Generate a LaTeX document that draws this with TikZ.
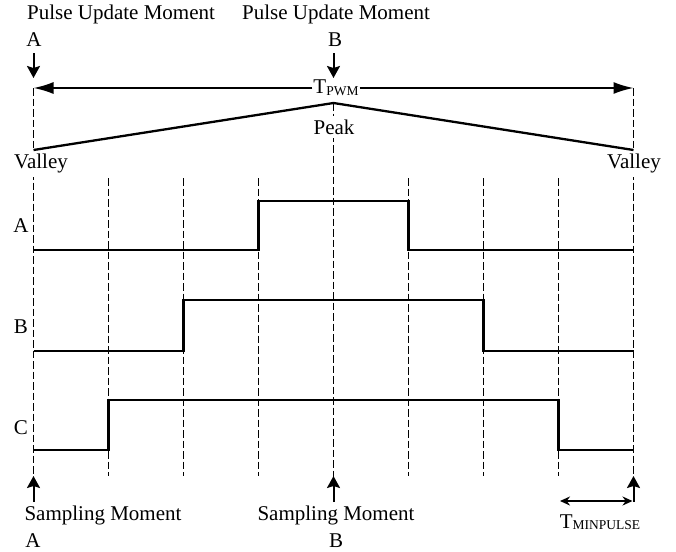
\documentclass[tikz,border=0pt]{standalone}
\usepackage{fontspec}
\setmainfont{Liberation Serif}
\usetikzlibrary{arrows.meta, positioning}

\newcommand{\subcap}[2][-2pt]{\raisebox{#1}{\fontsize{13.5}{14}\selectfont #2}}

\begin{document}
\begin{tikzpicture}[
    x=1pt, y=-1pt,
    lbl/.style={inner sep=0pt, font=\fontsize{21}{24}\selectfont},
    mask/.style={lbl, fill=white, inner xsep=1pt, inner ysep=4pt},
    grid/.style={line width=1.3pt, dash pattern=on 7.5pt off 3pt},
    wave/.style={line width=2.3pt},
    carrier/.style={line width=2.3pt},
    ptr/.style={-{Stealth[length=12pt,width=13pt,inset=2pt]}, line width=2pt},
    span/.style={-{Latex[length=20pt,width=12pt]}, line width=1.8pt},
    tick/.style={{Stealth[length=10pt,width=9pt]}-{Stealth[length=10pt,width=9pt]}, line width=1.8pt}
]
    \useasboundingbox (0,0) rectangle (676,551);

    % key points
    \coordinate (pwmL) at (33.5,88);
    \coordinate (pwmR) at (633.5,88);
    \coordinate (v0) at (33.5,150);
    \coordinate (pk) at (333.5,103);
    \coordinate (v8) at (633.5,150);

    % dashed sampling lines
    \foreach \i in {1,2,3,5,6,7}
        \draw[grid] (33.5+75*\i,178) -- (33.5+75*\i,476);
    \draw[grid] (pwmL) -- (33.5,478);
    \draw[grid] (pk) -- (333.5,478);
    \draw[grid] (pwmR) -- (633.5,478);

    % carrier labels
    \node[mask] (valL) at (41,163) {Valley};
    \node[mask] (valR) at (634,163) {Valley};
    \node[mask] (peak) at (334,127) {Peak};

    % carrier
    \draw[carrier] (v0) -- (pk) -- (v8);

    % period
    \node[mask, inner ysep=1pt] (tpwm) at (336,88) {T\subcap{PWM}};
    \draw[span] (tpwm.west) -- (pwmL);
    \draw[span] (tpwm.east) -- (pwmR);

    % update moments
    \node[lbl] (updA) at (121,14) {Pulse Update Moment};
    \node[lbl] (updAl) at (34,40) {A};
    \node[lbl] (updB) at (336,14) {Pulse Update Moment};
    \node[lbl] (updBl) at (335,40) {B};
    \coordinate (updAt) at (33.5,78);
    \coordinate (updBt) at (333.5,78);
    \draw[ptr] (updAl.south) ++(-0.5,6) -- (updAt);
    \draw[ptr] (updBl.south) ++(-1.5,6) -- (updBt);

    % phase signals
    \node[lbl] (sigA) at (21,226) {A};
    \node[lbl] (sigB) at (21,327) {B};
    \node[lbl] (sigC) at (21,428) {C};
    \draw[wave] (33.5,250) -| (258.5,201) -| (408.5,250) -- (633.5,250);
    \draw[wave] (33.5,351) -| (183.5,300) -| (483.5,351) -- (633.5,351);
    \draw[wave] (33.5,450) -| (108.5,400) -| (558.5,450) -- (633.5,450);

    % sampling moments
    \node[lbl] (smpA) at (103,515) {Sampling Moment};
    \node[lbl] (smpAl) at (33,541) {A};
    \node[lbl] (smpB) at (336,515) {Sampling Moment};
    \node[lbl] (smpBl) at (336,541) {B};
    \coordinate (smpAb) at (33.5,502);
    \coordinate (smpBb) at (333.5,502);
    \draw[ptr] (smpAb) -- (33.5,476);
    \draw[ptr] (smpBb) -- (333.5,476);

    % minimum pulse
    \node[lbl] (tmin) at (600,522) {T\subcap[-1pt]{MINPULSE}};
    \coordinate (minL) at (560,501);
    \coordinate (minR) at (633.5,501);
    \draw[tick] (minL) -- ([xshift=-1pt]minR);
    \draw[ptr] ([yshift=-0.9pt]minR) -- (633.5,476);
\end{tikzpicture}
\end{document}
